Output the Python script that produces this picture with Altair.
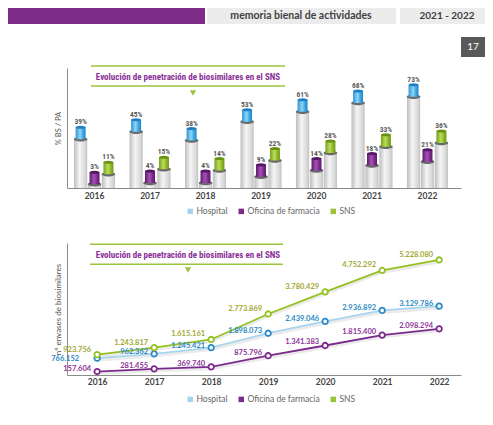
import altair as alt
import pandas as pd

# ---------------- data ----------------
years = ["2016", "2017", "2018", "2019", "2020", "2021", "2022"]
series = ["Hospital", "Oficina de farmacia", "SNS"]

pct_hospital = [39, 45, 38, 53, 61, 68, 73]
pct_oficina = [3, 4, 4, 9, 14, 18, 21]
pct_sns = [11, 15, 14, 22, 28, 33, 36]

env_hospital = [766152, 962362, 1245421, 1898073, 2439046, 2936892, 3129786]
env_oficina = [157604, 281455, 369740, 875796, 1341383, 1815400, 2098294]
env_sns = [923756, 1243817, 1615161, 2773869, 3780429, 4752292, 5228080]

title_text = "Evolución de penetración de biosimilares en el SNS"
header_text = "memoria bienal de actividades"
period_text = "2021 - 2022"
page_text = "17"
ytitle_bars = "% BS / PA"
ytitle_lines = "nº envases de biosimilares"


def long_table(values_by_series, fmt):
    rows = []
    for s, vals in zip(series, values_by_series):
        for y, v in zip(years, vals):
            rows.append({"year": y, "serie": s, "v": v, "label": fmt(v)})
    return pd.DataFrame(rows)


bars_df = long_table([pct_hospital, pct_oficina, pct_sns], lambda v: f"{v}%")
lines_df = long_table([env_hospital, env_oficina, env_sns],
                      lambda v: f"{v:,}".replace(",", "."))
one = pd.DataFrame({"k": [0]})

# ---------------- styles ----------------
PURPLE = "#7f2b8a"
GREEN = "#9bc43c"
legend_colors = ["#a6d3ee", "#7d2a8b", "#9bc43c"]
line_colors = ["#a7d5ee", "#7b2a8c", "#94c11f"]
point_colors = ["#2a89c6", "#7b2a8c", "#94c11f"]
label_colors = ["#2b8ac6", "#8d3599", "#a3a833"]
label_dy = [-2, -3, -5]
cap_stops = [
    [("#2f93d3", 0), ("#8fd6f6", 0.45), ("#3aa3df", 0.75), ("#2486c6", 1)],
    [("#5f1a6e", 0), ("#a552b5", 0.45), ("#7b2a8c", 0.75), ("#5c1a6b", 1)],
    [("#77a01a", 0), ("#bddc5e", 0.45), ("#8db524", 0.75), ("#6f9616", 1)],
]
cap_tops = ["#1f7fc0", "#551664", "#6a9212"]
ELL = "M-1,0A1,0.32,0,1,1,1,0A1,0.32,0,1,1,-1,0Z"
NARROW = "Roboto Condensed, Liberation Sans Narrow, Roboto, sans-serif"


def hgrad(stops):
    return {"gradient": "linear", "x1": 0, "x2": 1, "y1": 0, "y2": 0,
            "stops": [{"offset": o, "color": c} for c, o in stops]}


body_grad = hgrad([("#bdbdbd", 0), ("#f5f5f5", 0.42), ("#dadada", 0.8), ("#c2c2c2", 1)])

W, HB, HC = 394, 120, 132
FL, FR = -59, 418


def rect(x1, x2, y1, y2, **kw):
    return alt.Chart(one).mark_rect(**kw).encode(
        x=alt.value(x1), x2=alt.value(x2), y=alt.value(y1), y2=alt.value(y2))


def txt(x, y, s, **kw):
    return alt.Chart(one).mark_text(**kw).encode(
        x=alt.value(x), y=alt.value(y), text=alt.value(s))


def hrule(x1, x2, y, **kw):
    return alt.Chart(one).mark_rule(**kw).encode(
        x=alt.value(x1), x2=alt.value(x2), y=alt.value(y))


def tri(x, y):
    return alt.Chart(one).mark_point(shape="triangle-down", filled=True, opacity=1,
                                     color=GREEN, size=40).encode(x=alt.value(x), y=alt.value(y))


def title_box(x1, x2, y1, y2, xt, yt, xtri, ytri):
    return [
        hrule(x1, x2, y1, color=GREEN, strokeWidth=1.5),
        hrule(x1, x2, y2, color=GREEN, strokeWidth=1.5),
        txt(xt, yt, title_text, font=NARROW, fontSize=9, fontWeight="bold",
            color="#8a2f97", align="center", baseline="middle"),
        tri(xtri, ytri),
    ]


legend_kw = dict(orient="none", direction="horizontal", title=None, symbolType="square",
                 symbolSize=30, symbolStrokeWidth=0, labelFont="Lato", labelFontSize=8.5,
                 labelColor="#666666", labelOffset=2, columnPadding=9, padding=0, legendX=119)

axis_x = dict(ticks=False, labelPadding=3, domainColor="#8c8c8c", labelFont="Lato",
              labelFontWeight="bold", labelFontSize=8.5, labelColor="#454545", labelAngle=0)
axis_y = dict(labels=False, ticks=False, grid=False, domainColor="#8c8c8c", titleFont="Lato",
              titleFontSize=7.5, titleFontWeight="normal", titleColor="#555555", titlePadding=5)

# ---------------- bar chart ----------------
xb = alt.X("year:N", title=None,
           scale=alt.Scale(type="band", paddingInner=0.26, paddingOuter=0.18, align=0.35),
           axis=alt.Axis(**axis_x))
xob = alt.XOffset("serie:N", sort=series, scale=alt.Scale(paddingInner=0.05, paddingOuter=0))
yb = alt.Y("v:Q", scale=alt.Scale(domain=[0, 96], nice=False),
           axis=alt.Axis(title=ytitle_bars, **axis_y))

bbase = alt.Chart(bars_df)
layers_b = [
    rect(FL, FR, -60, 175, opacity=0),
    rect(FL, 138, -60, -44, color=PURPLE),
    rect(140, 329, -60, -44, color="#ececec"),
    rect(333, FR, -60, -44, color="#ececec"),
    txt(234, -52, header_text, font="Lato", fontSize=10.5, fontWeight="bold",
        color="#3f3f3f", align="center", baseline="middle"),
    txt(380, -52, period_text, font="Lato", fontSize=10, fontWeight="bold",
        color="#3f3f3f", align="center", baseline="middle"),
    rect(394, FR, -31, -11, color="#595959"),
    txt(406, -21, page_text, font="Lato", fontSize=10, color="white",
        align="center", baseline="middle"),
    bbase.mark_square(size=0, opacity=1).encode(
        x=xb, xOffset=xob, y=yb,
        fill=alt.Fill("serie:N", sort=series,
                      scale=alt.Scale(domain=series, range=legend_colors),
                      legend=alt.Legend(legendY=139, **legend_kw))),
    bbase.mark_bar(color=body_grad).encode(x=xb, xOffset=xob, y=yb),
    bbase.mark_point(shape=ELL, size=185, filled=True, opacity=1, color="#6a6a6a").encode(
        x=xb, xOffset=xob, y=yb),
]
for s, st, top in zip(series, cap_stops, cap_tops):
    f = bbase.transform_filter(alt.datum.serie == s)
    layers_b.append(f.mark_bar(width=10, yOffset=-12, color=hgrad(st)).encode(
        x=xb, xOffset=xob, y=yb, y2=alt.Y2("v:Q")))
    layers_b.append(f.mark_point(shape=ELL, size=100, filled=True, opacity=1, color=top,
                                 yOffset=-12).encode(x=xb, xOffset=xob, y=yb))
layers_b.append(bbase.mark_text(dy=-15, font=NARROW, fontSize=7.5, fontWeight="bold",
                                color="#5a5a5a", baseline="alphabetic").encode(
    x=xb, xOffset=xob, y=yb, text="label:N"))
layers_b += title_box(24, 218, -2, 18, 121, 8.5, 126, 25)

chart_b = alt.layer(*layers_b).properties(width=W, height=HB)

# ---------------- line chart ----------------
xc = alt.X("year:N", title=None, scale=alt.Scale(type="point", padding=0.456, align=0.58),
           axis=alt.Axis(**{**axis_x, "labelPadding": 2}))
yc = alt.Y("v:Q", scale=alt.Scale(domain=[0, 6000000], nice=False),
           axis=alt.Axis(title=ytitle_lines, **{**axis_y, "titleFontSize": 8}))

cbase = alt.Chart(lines_df)
layers_c = [
    rect(FL, FR, 0, 174, opacity=0),
    cbase.mark_square(size=0, opacity=1).encode(
        x=xc, y=yc,
        fill=alt.Fill("serie:N", sort=series,
                      scale=alt.Scale(domain=series, range=legend_colors),
                      legend=alt.Legend(legendY=152, **legend_kw))),
    cbase.mark_line(color="black", opacity=0.08, strokeWidth=3, yOffset=2).encode(
        x=xc, y=yc, detail="serie:N"),
    cbase.mark_line(strokeWidth=1.8).encode(
        x=xc, y=yc,
        color=alt.Color("serie:N", sort=series,
                        scale=alt.Scale(domain=series, range=line_colors), legend=None)),
]
for s, pc, lc, dy in zip(series, point_colors, label_colors, label_dy):
    f = cbase.transform_filter(alt.datum.serie == s)
    layers_c.append(f.mark_point(filled=True, fill="white", stroke=pc, strokeWidth=1.8,
                                 size=30, opacity=1).encode(x=xc, y=yc))
    lab_kw = dict(align="right", baseline="middle", font="Lato",
                  fontSize=7.5, fontWeight="bold", color=lc)
    if s == "Hospital":
        # first hospital label sits further left and lower in the reference
        layers_c.append(f.transform_filter(alt.datum.year == years[0]).mark_text(
            dx=-18, dy=1, **lab_kw).encode(x=xc, y=yc, text="label:N"))
        layers_c.append(f.transform_filter(alt.datum.year != years[0]).mark_text(
            dx=-6, dy=dy, **lab_kw).encode(x=xc, y=yc, text="label:N"))
    else:
        layers_c.append(f.mark_text(dx=-6, dy=dy, **lab_kw).encode(
            x=xc, y=yc, text="label:N"))
layers_c += title_box(23, 216, 1.3, 21.3, 121, 11.5, 121, 27)

chart_c = alt.layer(*layers_c).properties(width=W, height=HC)

chart = (alt.vconcat(chart_b, chart_c, spacing=0)
         .resolve_scale(fill="independent", color="independent")
         .resolve_legend(fill="independent", color="independent")
         .properties(padding=0)
         .configure_view(stroke=None))

chart.save("out.html", embed_options={"renderer": "svg", "actions": False})
